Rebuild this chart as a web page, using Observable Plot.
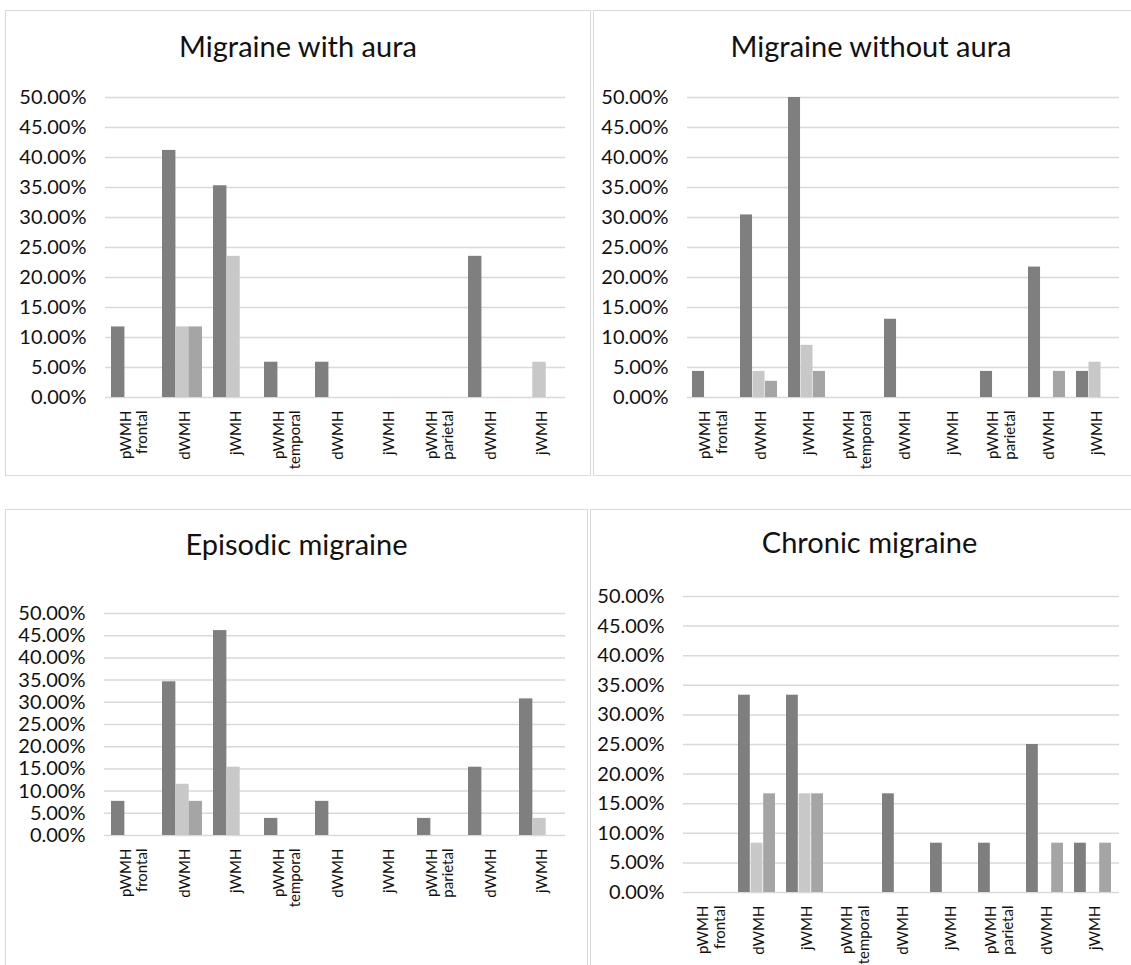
<!DOCTYPE html>
<html><head><meta charset="utf-8">
<script src="https://cdn.jsdelivr.net/npm/d3@7"></script>
<script src="https://cdn.jsdelivr.net/npm/@observablehq/plot@0.6"></script>
<style>
html,body{margin:0;padding:0;background:#fff;width:1131px;height:965px;overflow:hidden;position:relative;}
.panel{position:absolute;border:1px solid #d9d9d9;box-sizing:border-box;background:#fff;overflow:hidden;}
.panel svg{position:absolute;left:0;top:0;}
.title{position:absolute;left:0;right:0;text-align:center;font-family:Lato,"Open Sans",sans-serif;font-size:29px;color:#111;height:34px;line-height:34px;white-space:nowrap;}
</style></head><body>
<script>
// ---- data ----
const categories = ["frontal-p","frontal-d","frontal-j","temporal-p","temporal-d","temporal-j","parietal-p","parietal-d","parietal-j"];
const tickLabels = ["pWMH\nfrontal","dWMH","jWMH","pWMH\ntemporal","dWMH","jWMH","pWMH\nparietal","dWMH","jWMH"];
const seriesNames = ["Series1","Series2","Series3"];
const seriesColors = ["#7f7f7f","#c8c8c8","#a5a5a5"];
const yTicks = [0,5,10,15,20,25,30,35,40,45,50];
const titles = ["Migraine with aura","Migraine without aura","Episodic migraine","Chronic migraine"];

const auraS1 = [11.76, 41.18, 35.29, 5.88, 5.88, 0, 0, 23.53, 0];
const auraS2 = [0, 11.76, 23.53, 0, 0, 0, 0, 0, 5.88];
const auraS3 = [0, 11.76, 0, 0, 0, 0, 0, 0, 0];

const noAuraS1 = [4.35, 30.43, 50.0, 0, 13.04, 0, 4.35, 21.74, 4.35];
const noAuraS2 = [0, 4.35, 8.70, 0, 0, 0, 0, 0, 5.88];
const noAuraS3 = [0, 2.70, 4.35, 0, 0, 0, 0, 4.35, 0];

const episodicS1 = [7.69, 34.62, 46.15, 3.85, 7.69, 0, 3.85, 15.38, 30.77];
const episodicS2 = [0, 11.54, 15.38, 0, 0, 0, 0, 0, 3.85];
const episodicS3 = [0, 7.69, 0, 0, 0, 0, 0, 0, 0];

const chronicS1 = [0, 33.33, 33.33, 0, 16.67, 8.33, 8.33, 25.0, 8.33];
const chronicS2 = [0, 8.33, 16.67, 0, 0, 0, 0, 0, 0];
const chronicS3 = [0, 16.67, 16.67, 0, 0, 0, 0, 8.33, 8.33];

// ---- layout ----
const panels = [
  {title: titles[0], series: [auraS1, auraS2, auraS3], left: 5, top: 10, bw: 586, bh: 466, ml: 99, mr: 25, mt: 86, mb: 78, titleTop: 18},
  {title: titles[1], series: [noAuraS1, noAuraS2, noAuraS3], left: 593, top: 10, bw: 556, bh: 466, ml: 93, mr: 29, mt: 86, mb: 78, titleTop: 18},
  {title: titles[2], series: [episodicS1, episodicS2, episodicS3], left: 5, top: 509, bw: 583, bh: 472, ml: 98, mr: 22, mt: 103, mb: 145, titleTop: 17},
  {title: titles[3], series: [chronicS1, chronicS2, chronicS3], left: 590, top: 509, bw: 559, bh: 472, ml: 92, mr: 29, mt: 86, mb: 88, titleTop: 15}
];

const padIn = 0.22, padOut = 0.11;
const font = "Lato, 'Open Sans', sans-serif";
const labelOf = new Map(categories.map((c, i) => [c, tickLabels[i]]));

for (const p of panels) {
  const div = document.createElement("div");
  div.className = "panel";
  div.style.left = p.left + "px";
  div.style.top = p.top + "px";
  div.style.width = p.bw + "px";
  div.style.height = p.bh + "px";
  document.body.appendChild(div);

  const w = p.bw - 2, h = p.bh - 2;
  const innerW = w - p.ml - p.mr;
  const step = innerW / (categories.length - padIn + 2 * padOut);
  const bandW = step * (1 - padIn);
  const barW = bandW / 3;

  const marks = [
    Plot.gridY(yTicks, {stroke: "#d9d9d9", strokeOpacity: 1, strokeWidth: 1.5})
  ];
  p.series.forEach((vals, si) => {
    const rows = categories.map((c, i) => ({cat: c, value: vals[i], series: seriesNames[si]})).filter(d => d.value > 0);
    marks.push(Plot.barY(rows, {
      x: "cat", y: "value", fill: seriesColors[si],
      insetLeft: si * barW, insetRight: (2 - si) * barW
    }));
  });
  marks.push(Plot.axisY({ticks: yTicks, tickSize: 0, tickPadding: 19, fontSize: 20, tickFormat: d => d.toFixed(2) + "%", label: null, fill: "#111"}));
  marks.push(Plot.axisX({tickSize: 0, tickPadding: 13, tickRotate: -90, fontSize: 15, lineHeight: 1.1, dx: 2, tickFormat: d => labelOf.get(d), label: null, fill: "#111"}));

  const chart = Plot.plot({
    width: w, height: h,
    marginLeft: p.ml, marginRight: p.mr, marginTop: p.mt, marginBottom: p.mb,
    style: {fontFamily: font, background: "transparent", color: "#111", overflow: "visible"},
    x: {domain: categories, paddingInner: padIn, paddingOuter: padOut},
    y: {domain: [0, 50]},
    marks
  });
  div.appendChild(chart);

  const t = document.createElement("div");
  t.className = "title";
  t.style.top = p.titleTop + "px";
  t.textContent = p.title;
  div.appendChild(t);
}
</script>
</body></html>
